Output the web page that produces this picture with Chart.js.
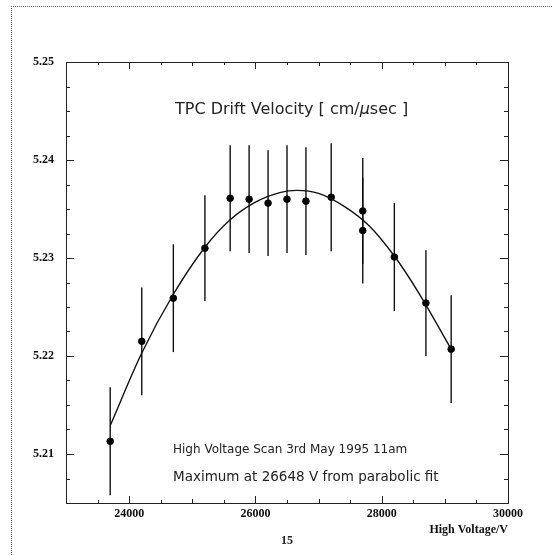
<!DOCTYPE html>
<html>
<head>
<meta charset="utf-8">
<script src="https://cdn.jsdelivr.net/npm/chart.js@4/dist/chart.umd.min.js"></script>
<style>
  html, body { margin: 0; padding: 0; background: #fff; }
  #wrap { position: relative; width: 552px; height: 555px; }
  #frame { position: absolute; left: 11px; top: 6px; right: 0; bottom: 0;
           border-left: 1px dotted #444; border-top: 1px dotted #666; }
  canvas { position: absolute; left: 0; top: 0; }
</style>
</head>
<body>
<div id="wrap">
  <div id="frame"></div>
  <canvas id="chart" width="552" height="555"></canvas>
</div>
<script>
// measured drift velocity vs high voltage
const voltages = [23700, 24200, 24700, 25200, 25600, 25900, 26200, 26500, 26800, 27200, 27700, 27700, 28200, 28700, 29100];
const velocities = [5.2113, 5.2215, 5.2259, 5.2310, 5.2361, 5.2360, 5.2356, 5.2360, 5.2358, 5.2362, 5.2348, 5.2328, 5.2301, 5.2254, 5.2207];
const velocityErrors = [0.0055, 0.0055, 0.0055, 0.0054, 0.0054, 0.0055, 0.0054, 0.0055, 0.0055, 0.0055, 0.0054, 0.0054, 0.0055, 0.0054, 0.0055];

// parabolic fit curve
const fitVoltages = [23700, 24200, 24700, 25200, 25600, 26000, 26400, 26650, 27000, 27400, 27800, 28200, 28600, 29100];
const fitVelocities = [5.2129, 5.2203, 5.2263, 5.2311, 5.2339, 5.2357, 5.2367, 5.2369, 5.2366, 5.2353, 5.2333, 5.2302, 5.2263, 5.2207];

const xTickLabels = [24000, 26000, 28000, 30000];
const yTickLabels = [5.21, 5.22, 5.23, 5.24, 5.25];

const isLabelled = (list, v) => list.some(t => Math.abs(t - v) < 1e-7);

const points = voltages.map((v, i) => ({ x: v, y: velocities[i] }));
const fitLine = fitVoltages.map((v, i) => ({ x: v, y: fitVelocities[i] }));

const tickFont = { family: "'Liberation Serif', serif", size: 12, weight: "bold" };

// error bars, drawn under the markers
const errorBars = {
  id: "errorBars",
  beforeDatasetsDraw(chart) {
    const { ctx, scales: { x, y } } = chart;
    ctx.save();
    ctx.strokeStyle = "#111";
    ctx.lineWidth = 1.4;
    voltages.forEach((v, i) => {
      const px = x.getPixelForValue(v);
      ctx.beginPath();
      ctx.moveTo(px, y.getPixelForValue(velocities[i] + velocityErrors[i]));
      ctx.lineTo(px, y.getPixelForValue(velocities[i] - velocityErrors[i]));
      ctx.stroke();
    });
    ctx.restore();
  }
};

// box round the plot plus inward ticks on all four sides, PAW style
const inwardTicks = {
  id: "inwardTicks",
  afterDraw(chart) {
    const { ctx, chartArea: a, scales: { x, y } } = chart;
    ctx.save();
    ctx.strokeStyle = "#222";
    ctx.lineWidth = 1;
    ctx.strokeRect(Math.round(a.left) + 0.5, Math.round(a.top) + 0.5,
                   Math.round(a.right - a.left), Math.round(a.bottom - a.top));
    x.ticks.forEach(t => {
      const px = Math.round(x.getPixelForValue(t.value)) + 0.5;
      const len = isLabelled(xTickLabels, t.value) ? 7 : (t.value % 1000 === 0 ? 4 : 3);
      ctx.beginPath();
      ctx.moveTo(px, a.bottom); ctx.lineTo(px, a.bottom - len);
      ctx.moveTo(px, a.top); ctx.lineTo(px, a.top + len);
      ctx.stroke();
    });
    y.ticks.forEach(t => {
      const py = Math.round(y.getPixelForValue(t.value)) + 0.5;
      const len = isLabelled(yTickLabels, t.value) ? 8 : 4;
      ctx.beginPath();
      ctx.moveTo(a.left, py); ctx.lineTo(a.left + len, py);
      ctx.moveTo(a.right, py); ctx.lineTo(a.right - len, py);
      ctx.stroke();
    });
    ctx.restore();
  }
};

// texts inside the frame
const captions = {
  id: "captions",
  afterDraw(chart) {
    const { ctx } = chart;
    ctx.save();
    ctx.fillStyle = "#222";
    ctx.textBaseline = "middle";
    ctx.textAlign = "left";

    let cx = 175;
    const ty = 110;
    const parts = [
      ["16px 'DejaVu Sans'", "TPC Drift Velocity [ cm/"],
      ["italic 16px 'DejaVu Sans'", "\u03bc"],
      ["16px 'DejaVu Sans'", "sec ]"]
    ];
    parts.forEach(([f, s]) => {
      ctx.font = f;
      ctx.fillText(s, cx, ty);
      cx += ctx.measureText(s).width;
    });

    ctx.font = "12px 'DejaVu Sans'";
    ctx.fillText("High Voltage Scan 3rd May 1995 11am", 173, 450);
    ctx.font = "13.5px 'DejaVu Sans'";
    ctx.fillText("Maximum at 26648 V from parabolic fit", 173, 477);

    ctx.font = "bold 12px 'Liberation Serif'";
    ctx.textAlign = "center";
    ctx.fillText("15", 287, 541);
    ctx.restore();
  }
};

new Chart(document.getElementById("chart"), {
  type: "scatter",
  data: {
    datasets: [
      {
        label: "fit",
        type: "line",
        data: fitLine,
        borderColor: "#111",
        borderWidth: 1.4,
        pointRadius: 0,
        fill: false,
        cubicInterpolationMode: "monotone"
      },
      {
        label: "drift velocity",
        data: points,
        backgroundColor: "#000",
        borderColor: "#000",
        pointRadius: 3.3,
        pointHoverRadius: 3.3
      }
    ]
  },
  options: {
    responsive: false,
    animation: false,
    events: [],
    layout: { padding: { top: 62, right: 44, left: 0, bottom: 18 } },
    plugins: {
      legend: { display: false },
      tooltip: { enabled: false },
      title: { display: false }
    },
    scales: {
      x: {
        type: "linear",
        min: 23000,
        max: 30000,
        afterFit: s => { s.height = 34; },
        grid: { display: false, drawTicks: false },
        border: { display: false },
        ticks: {
          stepSize: 500,
          autoSkip: false,
          maxRotation: 0,
          padding: 4,
          color: "#111",
          font: tickFont,
          callback: v => isLabelled(xTickLabels, v) ? String(v) : ""
        },
        title: {
          display: true,
          text: "High Voltage/V",
          align: "end",
          color: "#111",
          font: tickFont,
          padding: { top: 2, bottom: 0 }
        }
      },
      y: {
        type: "linear",
        min: 5.205,
        max: 5.25,
        afterFit: s => { s.width = 66; },
        grid: { display: false, drawTicks: false },
        border: { display: false },
        ticks: {
          stepSize: 0.0025,
          autoSkip: false,
          padding: 12,
          color: "#111",
          font: tickFont,
          callback: v => isLabelled(yTickLabels, v) ? v.toFixed(2) : ""
        }
      }
    }
  },
  plugins: [errorBars, inwardTicks, captions]
});
</script>
</body>
</html>
